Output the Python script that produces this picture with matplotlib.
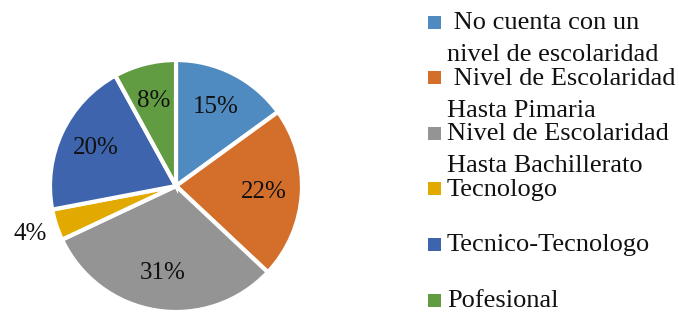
import numpy as np
import matplotlib
matplotlib.use("Agg")
import matplotlib.pyplot as plt
from matplotlib.patches import Rectangle

labels = [" No cuenta con un\nnivel de escolaridad",
          " Nivel de Escolaridad\nHasta Pimaria",
          "Nivel de Escolaridad\nHasta Bachillerato",
          "Tecnologo",
          "Tecnico-Tecnologo",
          "Pofesional"]
values = [15, 22, 31, 4, 20, 8]
colors = ["#4F8BC0", "#D36E2B", "#949494", "#E2A900", "#3D64AD", "#629C42"]

plt.rcParams["font.family"] = ["Liberation Serif", "DejaVu Serif"]

W, H = 679, 314
fig = plt.figure(figsize=(W / 100, H / 100), dpi=100)

# pie axes: centre (176, 186) px from top-left, radius 126 px
cx, cy, r = 176, 186, 126
ax = fig.add_axes([(cx - r) / W, (H - cy - r) / H, 2 * r / W, 2 * r / H])
wedges, texts, autotexts = ax.pie(values, colors=colors, startangle=90,
                                  counterclock=False, autopct="%1.0f%%",
                                  pctdistance=0.7,
                                  wedgeprops=dict(edgecolor="white", linewidth=3),
                                  textprops=dict(fontsize=18, color="#111111"))
ax.set_xlim(-1, 1)
ax.set_ylim(-1, 1)
ax.set_aspect("equal")
ax.axis("off")

# small slice label goes outside
w = wedges[3]
ang = np.deg2rad((w.theta1 + w.theta2) / 2)
autotexts[3].set_position((1.22 * np.cos(ang), 1.22 * np.sin(ang)))

# legend drawn by hand, Excel style
sq = 13
for i, (lab, col) in enumerate(zip(labels, colors)):
    my = 22 + i * 55.6
    fig.patches.append(Rectangle(((428) / W, (H - my - sq / 2) / H), sq / W, sq / H,
                                 transform=fig.transFigure, facecolor=col,
                                 edgecolor="none"))
    for j, line in enumerate(lab.split("\n")):
        fig.text(447 / W, (H - my - 7 - j * 32) / H, line, fontsize=19,
                 va="baseline", ha="left", color="#111111")

fig.savefig("out.png", dpi=100)
